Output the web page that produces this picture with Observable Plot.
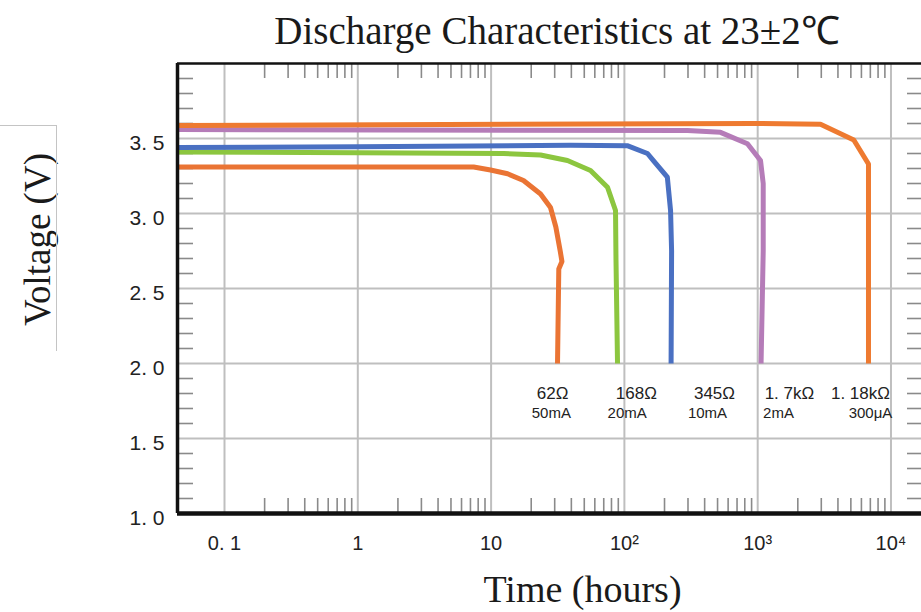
<!DOCTYPE html>
<html>
<head>
<meta charset="utf-8">
<script src="https://cdn.jsdelivr.net/npm/d3@7"></script>
<script src="https://cdn.jsdelivr.net/npm/@observablehq/plot@0.6"></script>
<style>
  html, body { margin: 0; padding: 0; background: #fff; overflow: hidden; }
  #wrap { position: relative; width: 921px; height: 612px; }
  #titlebox { position: relative; width: 921px; height: 58px; }
  #title { position: absolute; left: 557px; top: 11px; transform: translateX(-50%);
           white-space: nowrap; font-family: "Liberation Serif", serif; font-size: 39px;
           line-height: 1; color: #1a1a1a; }
  #bracket { position: absolute; left: -1px; top: 125px; width: 57px; height: 225px;
             border-top: 1px solid #c4c4c4; border-right: 1px solid #c4c4c4; }
  svg { display: block; }
</style>
</head>
<body>
<div id="wrap">
  <div id="titlebox"><div id="title">Discharge Characteristics at 23±2℃</div></div>
  <div id="bracket"></div>
  <div id="chart"></div>
</div>
<script>
// ---- data ----
const seriesNames = ["62Ω", "168Ω", "345Ω", "1.7kΩ", "1.18kΩ"];
const seriesColors = ["#ea7434", "#8cc63f", "#4a70c2", "#b57cb8", "#ee7a30"];

const t62  = [0.0444, 1, 4.2, 7.4, 9.9, 13.3, 17.5, 23.5, 27.9, 30.6, 33.0, 34.0, 32.2, 31.5];
const v62  = [3.31, 3.31, 3.31, 3.31, 3.29, 3.265, 3.22, 3.13, 3.04, 2.91, 2.75, 2.68, 2.63, 2.0];

const t168 = [0.0444, 1, 12.4, 23.5, 37.4, 55.7, 74.7, 85.8, 86.5, 88.8];
const v168 = [3.41, 3.405, 3.40, 3.39, 3.353, 3.287, 3.175, 3.02, 2.69, 2.0];

const t345 = [0.0444, 1, 39.4, 105, 149, 165, 210, 222, 226, 224];
const v345 = [3.44, 3.445, 3.455, 3.452, 3.40, 3.353, 3.242, 3.02, 2.75, 2.0];

const t1k7 = [0.0444, 297, 526, 838, 1050, 1100, 1100, 1060];
const v1k7 = [3.56, 3.553, 3.541, 3.465, 3.353, 3.2, 2.75, 2.0];

const t1k18 = [0.0444, 930, 2960, 5260, 6780, 6780];
const v1k18 = [3.587, 3.60, 3.595, 3.49, 3.33, 2.0];

const seriesT = [t62, t168, t345, t1k7, t1k18];
const seriesV = [v62, v168, v345, v1k7, v1k18];

// curve annotations
const resistLabels = ["62Ω", "168Ω", "345Ω", "1. 7kΩ", "1. 18kΩ"];
const resistLabelT = [28.9, 123, 474, 1730, 5900];
const currentLabels = ["50mA", "20mA", "10mA", "2mA", "300μA"];
const currentLabelT = [28.3, 105, 420, 1432, 7020];
const resistLabelV = 1.80;
const currentLabelV = 1.667;

// axes
const xDomain = [0.0444, 16940];
const yDomain = [1, 4];
const decades = [0.1, 1, 10, 100, 1000, 10000];
const xTickLabels = ["0. 1", "1", "10", "10²", "10³", "10⁴"];
const yTicks = [1, 1.5, 2, 2.5, 3, 3.5];
const yTickLabels = ["1. 0", "1. 5", "2. 0", "2. 5", "3. 0", "3. 5"];
const yGrid = [1.5, 2, 2.5, 3, 3.5];
const minorMultipliers = [2, 3, 4, 5, 6, 7, 8, 9];
const minorDecades = [0.1, 1, 10, 100, 1000];
const minorVoltTicks = [1.1,1.2,1.3,1.4,1.6,1.7,1.8,1.9,2.1,2.2,2.3,2.4,2.6,2.7,2.8,2.9,
                        3.1,3.2,3.3,3.4,3.6,3.7,3.8,3.9];

// ---- build tables ----
const points = [];
seriesNames.forEach((name, k) => {
  seriesT[k].forEach((t, i) => points.push({name, t, v: seriesV[k][i]}));
});
const minorTimes = [];
minorDecades.forEach(d => minorMultipliers.forEach(m => minorTimes.push(+(d * m).toPrecision(6))));
const xLabelMap = new Map(decades.map((d, i) => [d, xTickLabels[i]]));
const yLabelMap = new Map(yTicks.map((d, i) => [d, yTickLabels[i]]));
const resistTable = resistLabels.map((s, i) => ({s, t: resistLabelT[i], v: resistLabelV}));
const currentTable = currentLabels.map((s, i) => ({s, t: currentLabelT[i], v: currentLabelV}));

const W = 921, H = 554, mTop = 5, mBottom = 99, mLeft = 177, mRight = 0;
const frameH = H - mTop - mBottom;   // 450
const frameW = W - mLeft - mRight;   // 744
const gridColor = "#bfbfbf";
const tickColor = "#8a8a8a";
const labelFont = "'Liberation Sans', Arial, sans-serif";

const chart = Plot.plot({
  width: W, height: H,
  marginTop: mTop, marginBottom: mBottom, marginLeft: mLeft, marginRight: mRight,
  style: {background: "#fff", overflow: "visible"},
  x: {type: "log", domain: xDomain},
  y: {domain: yDomain},
  color: {domain: seriesNames, range: seriesColors},
  marks: [
    // grid
    Plot.ruleX(decades, {stroke: gridColor, strokeWidth: 2}),
    Plot.ruleY(yGrid, {stroke: gridColor, strokeWidth: 2}),
    // minor ticks (top, bottom, left, right) as short rules inset from the frame
    Plot.ruleX(minorTimes, {stroke: tickColor, strokeWidth: 1.6, insetBottom: frameH - 15}),
    Plot.ruleX(minorTimes, {stroke: tickColor, strokeWidth: 1.6, insetTop: frameH - 15}),
    Plot.ruleY(minorVoltTicks, {stroke: tickColor, strokeWidth: 1.6, insetRight: frameW - 16}),
    Plot.ruleY(minorVoltTicks, {stroke: tickColor, strokeWidth: 1.6, insetLeft: frameW - 14}),
    // curves
    Plot.line(points, {x: "t", y: "v", z: "name", stroke: "name", strokeWidth: 5,
                       strokeLinejoin: "round", strokeLinecap: "butt"}),
    // frame
    Plot.ruleY([yDomain[1]], {stroke: "#111", strokeWidth: 2.5}),
    Plot.ruleY([yDomain[0]], {stroke: "#111", strokeWidth: 4.5}),
    Plot.ruleX([xDomain[0]], {stroke: "#111", strokeWidth: 3.5}),
    // annotations
    Plot.text(resistTable, {x: "t", y: "v", text: "s", fontSize: 17,
      fontFamily: labelFont, fill: "#222"}),
    Plot.text(currentTable, {x: "t", y: "v", text: "s", fontSize: 15,
      fontFamily: labelFont, fill: "#222"}),
    // axes
    Plot.axisX({ticks: decades, tickFormat: d => xLabelMap.get(d), tickSize: 0, tickPadding: 22,
      fontSize: 20, fontFamily: "'Liberation Sans', sans-serif", fill: "#222", label: null}),
    Plot.axisY({ticks: yTicks, tickFormat: d => yLabelMap.get(d), tickSize: 0, tickPadding: 13,
      dy: 5, fontSize: 21, fontFamily: "'Liberation Sans', sans-serif", fill: "#222", label: null}),
    // axis titles
    Plot.text(["Time (hours)"], {frameAnchor: "bottom", dx: 33, dy: 76, fontSize: 38,
      fontFamily: "'Liberation Serif', serif", fill: "#1a1a1a", lineAnchor: "middle"}),
    Plot.text(["Voltage (V)"], {frameAnchor: "left", rotate: -90, dx: -139, dy: -49, fontSize: 37,
      fontFamily: "'Liberation Serif', serif", fill: "#1a1a1a", lineAnchor: "middle", textAnchor: "middle"})
  ]
});
document.getElementById("chart").appendChild(chart);
</script>
</body>
</html>
